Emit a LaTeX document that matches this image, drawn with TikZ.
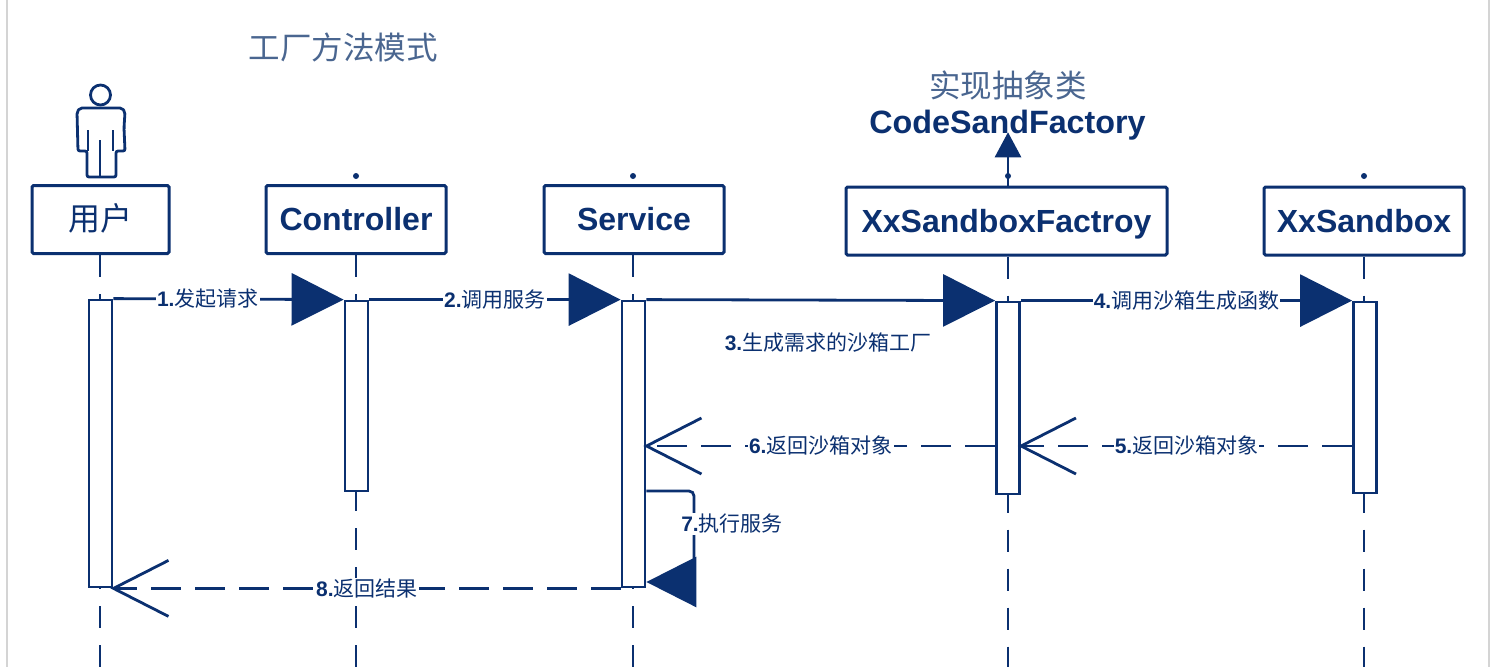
\documentclass[tikz,border=0pt]{standalone}
\usepackage{fontspec}
\setmainfont{Liberation Sans}
\newfontfamily\cjk{Noto Sans CJK SC}
\usepackage{tikz}
\usetikzlibrary{arrows.meta,positioning}
\definecolor{navy}{HTML}{0B3070}
\definecolor{paleink}{HTML}{4A6690}
\definecolor{edgegray}{HTML}{D4D4D4}
\newcommand{\cn}[1]{{\cjk #1}}

\begin{document}
\begin{tikzpicture}[x=1pt,y=-1pt]
    \tikzset{actor/.style = {shape=rectangle,draw=navy,line width=3pt,rounded corners=1.5pt,
        minimum height=68pt,inner sep=0pt,text=navy,text height=28pt,text depth=6pt,
        font=\fontsize{32}{36}\selectfont\bfseries}}
    \tikzset{bar/.style = {shape=rectangle,draw=navy,fill=white,line width=2.8pt,minimum width=23pt,inner sep=0pt}}
    \tikzset{life/.style = {navy,line width=2.6pt,dash pattern=on 22pt off 17pt}}
    \tikzset{call/.style = {navy,line width=2.8pt,-{Triangle[length=52pt,width=52pt]}}}
    \tikzset{back/.style = {navy,line width=2.8pt,dash pattern=on 30pt off 14pt,shorten >=-3pt,
        -{Straight Barb[length=55pt,width=56pt,line width=2.8pt]}}}
    \tikzset{msg/.style = {fill=white,inner sep=1pt,text=navy,font=\fontsize{21}{24}\selectfont}}
    \tikzset{note/.style = {text=paleink,inner sep=0pt,font=\fontsize{31.5}{36}\selectfont}}
    \useasboundingbox (0,0) rectangle (1505,667);
    % page edges
    \draw[edgegray,line width=2pt] (7,0) -- (7,667);
    \draw[edgegray,line width=2pt] (1489,0) -- (1489,667);
    % title
    \node[note] (title) at (343,47) {\cn{工厂方法模式}};
    % lifeline heads
    \node[actor,minimum width=137pt] (user) at (100.5,219.5) {\cn{\mdseries 用户}};
    \node[actor,minimum width=180pt] (ctrl) at (356,219.5) {Controller};
    \node[actor,minimum width=180pt] (serv) at (634,219.5) {Service};
    \node[actor,minimum width=321pt] (fact) at (1006.5,221) {XxSandboxFactroy};
    \node[actor,minimum width=200pt] (sand) at (1364,221) {XxSandbox};
    % dots above the heads
    \foreach \name/\xpos in {dotc/356,dots/633,dotf/1008,dotb/1364}
        \node[circle,fill=navy,inner sep=0pt,minimum size=6pt] (\name) at (\xpos,176) {};
    % free ends of the lifelines
    \coordinate (endu) at (100,667);
    \coordinate (endc) at (356,667);
    \coordinate (ends) at (633,667);
    \coordinate (endf) at (1008,667);
    \coordinate (endb) at (1364,667);
    \draw[life] (user.south -| endu) -- (endu);
    \draw[life] (ctrl.south -| endc) -- (endc);
    \draw[life] (serv.south -| ends) -- (ends);
    \draw[life] (fact.south -| endf) -- (endf);
    \draw[life] (sand.south -| endb) -- (endb);
    % activations
    \node[bar,minimum height=287pt] (baru) at (100.5,443.5) {};
    \node[bar,minimum height=190pt] (barc) at (356.5,396) {};
    \node[bar,minimum height=286pt] (bars) at (633.5,444) {};
    \node[bar,minimum height=192pt] (barf) at (1008,398) {};
    \node[bar,minimum height=191pt] (barb) at (1365,397.5) {};
    % actor figure
    \node[circle,draw=navy,line width=2.8pt,minimum size=20pt,inner sep=0pt] (head) at (100.5,95) {};
    \draw[navy,line width=2.8pt,rounded corners=2pt] (87,177) -- (87,151) -- (78,151) -- (77,112) -- (80,108)
        -- (122,108) -- (125,112) -- (124,128) -- (125,151) -- (116,151) -- (116,177) -- cycle;
    \draw[navy,line width=2.8pt] (88,130) -- (88,151) (113,130) -- (113,151) (100,140) -- (100,177);
    % factory to abstract class
    \node[text=navy,inner sep=0pt,font=\fontsize{32.3}{36}\selectfont\bfseries] (code) at (1007.5,125) {CodeSandFactory};
    \node[note] (impl) at (1008,85) {\cn{实现抽象类}};
    \draw[navy,line width=2.8pt,shorten >=-8pt,-{Triangle[length=25pt,width=26pt]}] (fact.north -| endf) -- (code.south -| endf);
    % messages
    \draw[call] (baru.north east) -- (barc.north west) node[msg,pos=0.41] (m1) {\textbf{1.}\cn{发起请求}};
    \draw[call] (barc.north east) -- (bars.north west) node[msg,pos=0.5] (m2) {\textbf{2.}\cn{调用服务}};
    \draw[call] (bars.north east) -- (barf.north west);
    \node[msg,fill=none] (m3) at (828,343) {\textbf{3.}\cn{生成需求的沙箱工厂}};
    \draw[call] (barf.north east) -- (barb.north west) node[msg,pos=0.5] (m4) {\textbf{4.}\cn{调用沙箱生成函数}};
    \coordinate (rowa) at (0,446);
    \coordinate (rowb) at (0,491);
    \coordinate (rowc) at (0,582);
    \draw[back] (barb.west |- rowa) -- (barf.east |- rowa) node[msg,pos=0.5] (m5) {\textbf{5.}\cn{返回沙箱对象}};
    \draw[back] (barf.west |- rowa) -- (bars.east |- rowa) node[msg,pos=0.5] (m6) {\textbf{6.}\cn{返回沙箱对象}};
    \coordinate (turn) at (694,0);
    \draw[navy,line width=2.8pt,rounded corners=5pt,-{Triangle[length=50pt,width=50pt]}]
        (bars.east |- rowb) -| (turn |- rowc) -- (bars.east |- rowc);
    \node[msg] (m7) at (732,524) {\textbf{7.}\cn{执行服务}};
    \draw[back] (bars.south west) -- (baru.south east) node[msg,pos=0.5] (m8) {\textbf{8.}\cn{返回结果}};
\end{tikzpicture}
\end{document}
